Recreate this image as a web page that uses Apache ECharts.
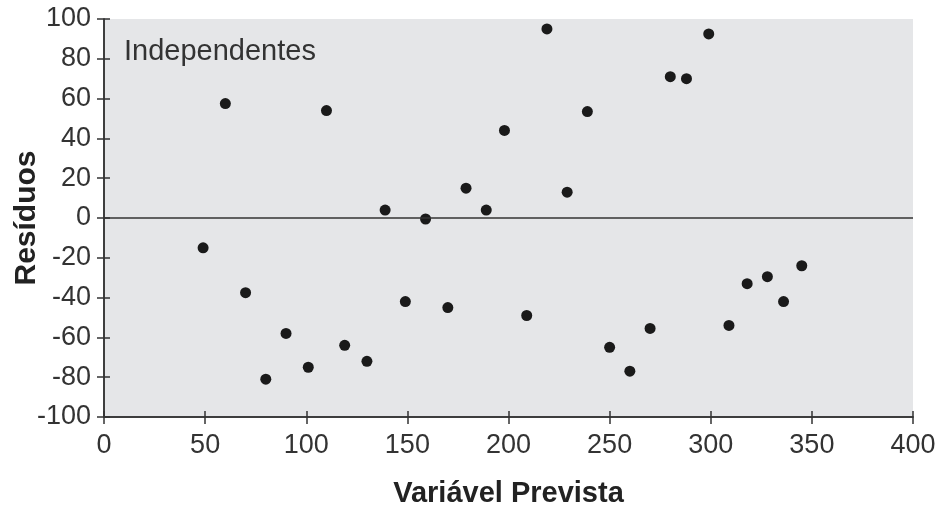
<!DOCTYPE html>
<html><head><meta charset="utf-8">
<script src="https://cdn.jsdelivr.net/npm/echarts@6/dist/echarts.min.js"></script>
<style>html,body{margin:0;padding:0;background:#fff}#c{width:938px;height:506px}</style>
</head><body><div id="c"></div>
<script>
const xValues = [49, 60, 70, 80, 90, 101, 110, 119, 130, 139, 149, 159, 170, 179, 189, 198, 209, 219, 229, 239, 250, 260, 270, 280, 288, 299, 309, 318, 328, 336, 345];
const yValues = [-15, 57.5, -37.5, -81, -58, -75, 54, -64, -72, 4, -42, -0.5, -45, 15, 4, 44, -49, 95, 13, 53.5, -65, -77, -55.5, 71, 70, 92.5, -54, -33, -29.5, -42, -24];
const xTicks = [0, 50, 100, 150, 200, 250, 300, 350, 400];
const yTicks = [-100, -80, -60, -40, -20, 0, 20, 40, 60, 80, 100];
const xTitle = 'Variável Prevista';
const yTitle = 'Resíduos';
const panelLabel = 'Independentes';

const points = xValues.map((x, i) => [x, yValues[i]]);
const font = 'Liberation Sans, Arial, sans-serif';
const axisCol = '#333';

const chart = echarts.init(document.getElementById('c'), null, {renderer: 'canvas'});
const baseX = {
  type: 'value', min: xTicks[0], max: xTicks[xTicks.length - 1], interval: 50,
  splitLine: {show: false},
  axisLine: {show: true, onZero: false, lineStyle: {color: axisCol, width: 1.5}},
};
const baseY = {
  type: 'value', min: yTicks[0], max: yTicks[yTicks.length - 1], interval: 20,
  splitLine: {show: false},
  axisLine: {show: true, onZero: false, lineStyle: {color: axisCol, width: 1.5}},
};
chart.setOption({
  animation: false,
  grid: {left: 104, right: 25, top: 19, bottom: 89, show: true, backgroundColor: '#e5e6e8', borderWidth: 0,
         containLabel: false, outerBoundsMode: 'none'},
  xAxis: [
    Object.assign({}, baseX, {
      position: 'bottom',
      axisTick: {show: true, inside: false, length: 7, lineStyle: {color: axisCol, width: 1.5}},
      axisLabel: {color: '#333', fontSize: 27, fontFamily: font, margin: 15},
      name: xTitle, nameLocation: 'middle', nameGap: 62,
      nameTextStyle: {color: '#222', fontSize: 29, fontWeight: 'bold', fontFamily: font}
    }),
    Object.assign({}, baseX, {
      position: 'bottom', offset: 0,
      axisTick: {show: true, inside: true, length: 6, lineStyle: {color: axisCol, width: 1.5}},
      axisLabel: {show: false}
    })
  ],
  yAxis: [
    Object.assign({}, baseY, {
      position: 'left',
      axisTick: {show: true, inside: false, length: 7, lineStyle: {color: axisCol, width: 1.5}},
      axisLabel: {color: '#333', fontSize: 27, fontFamily: font, margin: 13},
      name: yTitle, nameLocation: 'middle', nameGap: 62, nameMoveOverlap: false,
      nameTextStyle: {color: '#222', fontSize: 30, fontWeight: 'bold', fontFamily: font}
    }),
    Object.assign({}, baseY, {
      position: 'left', offset: 0,
      axisTick: {show: true, inside: true, length: 6, lineStyle: {color: axisCol, width: 1.5}},
      axisLabel: {show: false}
    })
  ],
  series: [{
    type: 'scatter', xAxisIndex: 0, yAxisIndex: 0,
    data: points, symbolSize: 11,
    itemStyle: {color: '#1a1a1a', opacity: 1},
    markLine: {
      silent: true, symbol: 'none', label: {show: false},
      lineStyle: {color: '#333', width: 1.5, type: 'solid'},
      data: [{yAxis: 0}]
    }
  }],
  graphic: [{
    type: 'text', left: 124, top: 37,
    style: {text: panelLabel, fontSize: 29, fontFamily: font, fill: '#333'}
  }]
});
</script></body></html>
